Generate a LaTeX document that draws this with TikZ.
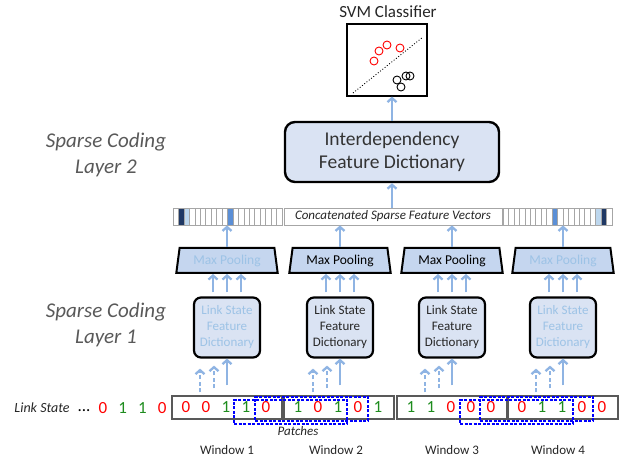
\documentclass[tikz,border=0pt]{standalone}
\usepackage{fontspec}
\setmainfont{Carlito}
\usetikzlibrary{shapes.geometric, positioning}
\usetikzlibrary{arrows.meta}
\definecolor{boxfill}{HTML}{DAE3F3}
\definecolor{poolfill}{HTML}{C5D6EF}
\definecolor{arrowblue}{HTML}{8FB4E3}
\definecolor{fadetext}{HTML}{9DC3E6}
\definecolor{darkcell}{HTML}{1F3864}
\definecolor{midcell}{HTML}{5B8FD6}
\definecolor{lightcell}{HTML}{BDD7EE}
\definecolor{labelgray}{HTML}{595959}
\definecolor{bit0}{HTML}{FF0000}
\definecolor{bit1}{HTML}{1E8C1E}
\tikzset{>={Straight Barb[length=4pt,width=9pt]}}

\begin{document}
\begin{tikzpicture}[x=1pt, y=-1pt,
    dict/.style={rounded corners=7pt, draw=black, line width=2.2pt, fill=boxfill, minimum width=66pt, minimum height=60pt, align=center, font=\fontsize{13}{16}\selectfont, text=black!85, inner sep=1pt},
    fadedict/.style={dict, text=fadetext},
    pool/.style={trapezium, trapezium stretches=true, trapezium left angle=80, trapezium right angle=80, draw=black, line width=2pt, fill=poolfill, minimum width=102pt, minimum height=25pt, font=\fontsize{13.5}{15}\selectfont, inner sep=1pt},
    fadepool/.style={pool, text=fadetext},
    upline/.style={->, draw=arrowblue, line width=2.3pt},
    updash/.style={upline, dash pattern=on 4pt off 2.5pt},
    window/.style={draw=black!65, line width=1.2pt, minimum width=110pt, minimum height=23pt},
    patchbox/.style={draw=blue, dash pattern=on 3pt off 1.5pt, line width=1.1pt, minimum width=113pt, minimum height=24pt},
    bar/.style={draw=black!35, line width=0.8pt, minimum height=17pt, inner sep=0pt},
    cell/.style={draw=black!35, line width=0.6pt},
    bit/.style={font=\fontsize{17}{17}\selectfont},
    layerlabel/.style={font=\itshape\fontsize{21}{26}\selectfont, text=labelgray, align=center}]

    \useasboundingbox (0,0) rectangle (625,457);

    %Nodes
    \node[font=\fontsize{17}{19}\selectfont, text=black!85] (svmtitle) at (388,12) {SVM Classifier};
    \node[draw=black, line width=1.1pt, minimum width=80pt, minimum height=72pt] (svm) at (387,60) {};
    \node[rounded corners=10pt, draw=black, line width=2.4pt, fill=boxfill, minimum width=214pt, minimum height=60pt, align=center, font=\fontsize{19.5}{23}\selectfont, text=black!80] (interdep) at (392,152) {Interdependency\\Feature Dictionary};

    \node[layerlabel] (layer2) at (106,155) {Sparse Coding\\Layer 2};
    \node[layerlabel] (layer1) at (106,325) {Sparse Coding\\Layer 1};

    \node[bar, minimum width=109pt] (barL) at (227.5,216.5) {};
    \node[bar, minimum width=218pt, font=\itshape\fontsize{13}{15}\selectfont, text=black!85] (concat) at (393,216.5) {Concatenated Sparse Feature Vectors};
    \node[bar, minimum width=109pt] (barR) at (557.5,216.5) {};

    \node[fadepool] (pool1) at (227,260.5) {Max Pooling};
    \node[pool] (pool2) at (340,260.5) {Max Pooling};
    \node[pool] (pool3) at (452,260.5) {Max Pooling};
    \node[fadepool] (pool4) at (563,260.5) {Max Pooling};

    \node[fadedict] (dict1) at (227,327.5) {Link State\\Feature\\Dictionary};
    \node[dict] (dict2) at (340,327.5) {Link State\\Feature\\Dictionary};
    \node[dict] (dict3) at (452,327.5) {Link State\\Feature\\Dictionary};
    \node[fadedict] (dict4) at (563,327.5) {Link State\\Feature\\Dictionary};

    \node[window] (win1) at (227,407.5) {};
    \node[window] (win2) at (339,407.5) {};
    \node[window] (win3) at (452,407.5) {};
    \node[window] (win4) at (563,407.5) {};

    \node[patchbox] (patch1) at (290.5,412) {};
    \node[patchbox] (patch2) at (311.5,409) {};
    \node[patchbox] (patch3) at (516.5,412) {};
    \node[patchbox] (patch4) at (536.5,409) {};

    \node[font=\itshape\fontsize{14}{16}\selectfont, text=black!85] (linkstate) at (42,408) {Link State};
    \node[bit] (dots) at (84,411) {...};
    \foreach \b [count=\i from 0] in {0,1,1,0}
        \node[bit, text=bit\b] (pre\i) at (103+\i*19.7,408) {\b};
    \foreach \w/\bits in {1/{0,0,1,1,0}, 2/{1,0,1,0,1}, 3/{1,1,0,0,0}, 4/{0,1,1,0,0}}
        \foreach \b [count=\i from 0] in \bits
            \node[bit, text=bit\b] (w\w b\i) at ([xshift=-41pt+\i*20pt]win\w.center) {\b};

    \node[font=\itshape\fontsize{13}{15}\selectfont, text=black!85] (patches) at (298,431) {Patches};
    \foreach \w/\x in {1/227, 2/336, 3/452, 4/558}
        \node[font=\fontsize{13}{15}\selectfont, text=black!85] (wlab\w) at (\x,450) {Window \w};

    %Feature vector cells
    \foreach \i/\c in {1/darkcell, 2/lightcell, 10/midcell}
        \fill[\c] (173+\i*5.45,208) rectangle +(5.45,17);
    \foreach \i/\c in {9/midcell, 17/lightcell, 18/darkcell}
        \fill[\c] (503+\i*5.45,208) rectangle +(5.45,17);
    \foreach \i in {0,...,19} {
        \draw[cell] (173+\i*5.45,208) rectangle +(5.45,17);
        \draw[cell] (503+\i*5.45,208) rectangle +(5.45,17);
    }

    %SVM plot
    \draw[dotted, line width=0.9pt] (353,93) -- (423,37);
    \foreach \p in {(374,61), (379,51), (387,45), (400,48)}
        \draw[red, line width=0.9pt] \p circle (4pt);
    \foreach \p in {(397,80), (401,87), (406,76), (410,76)}
        \draw[black, line width=0.9pt] \p circle (4pt);

    %Lines
    \draw[upline] (interdep.north) -- (interdep.north |- svm.south);
    \draw[upline] (concat.north -| interdep.south) -- (interdep.south);
    \draw[upline] (pool1.north) -- (pool1.north |- barL.south);
    \draw[upline] (pool2.north) -- (pool2.north |- concat.south);
    \draw[upline] (pool3.north) -- (pool3.north |- concat.south);
    \draw[upline] (pool4.north) -- (pool4.north |- barR.south);
    \foreach \n in {1,2,3,4} {
        \foreach \dx in {-14,0,14}
            \draw[upline] ([xshift=\dx pt, yshift=4pt]dict\n.north) -- ([xshift=\dx pt]dict\n.north |- pool\n.south);
        \draw[updash] ([xshift=-27pt, yshift=3pt]dict\n.south |- win\n.north) -- ([xshift=-27pt, yshift=-10pt]dict\n.south);
        \draw[updash] ([xshift=-13pt, yshift=7pt]dict\n.south |- win\n.north) -- ([xshift=-13pt, yshift=-7pt]dict\n.south);
        \draw[upline] ([yshift=10pt]dict\n.south |- win\n.north) -- (dict\n.south);
    }

\end{tikzpicture}
\end{document}
